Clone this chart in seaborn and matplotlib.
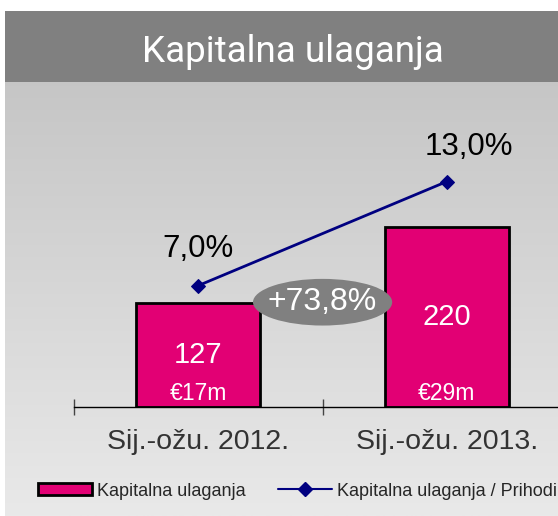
import numpy as np
import matplotlib.pyplot as plt
import seaborn as sns
from matplotlib.colors import LinearSegmentedColormap
from matplotlib.patches import Ellipse, Patch
from matplotlib.lines import Line2D

periods = ["Sij.-ožu. 2012.", "Sij.-ožu. 2013."]
capex = [127, 220]
capex_eur = ["€17m", "€29m"]
capex_ratio = [7.0, 13.0]
ratio_labels = ["7,0%", "13,0%"]
growth = "+73,8%"

sns.set_theme(style="white")
plt.rcParams["font.family"] = ["Liberation Sans", "DejaVu Sans"]

MAGENTA = "#E20074"
NAVY = "#000080"
W, H = 558, 516


def box(x0, y0, x1, y1):
    return [x0 / W, 1 - y1 / H, (x1 - x0) / W, (y1 - y0) / H]


fig = plt.figure(figsize=(5.58, 5.16), dpi=100)
fig.patch.set_facecolor("white")

# grey gradient panel
bg = fig.add_axes(box(5, 11, 558, 516))
bg.axis("off")
grad = np.linspace(0, 1, 256).reshape(-1, 1)
cmap = LinearSegmentedColormap.from_list("g", ["#c0c0c0", "#e9e9e9"])
bg.imshow(grad, cmap=cmap, aspect="auto", extent=[0, 1, 0, 1])

# title band
tb = fig.add_axes(box(5, 11, 558, 82))
tb.set_facecolor("#808080")
tb.set_xticks([])
tb.set_yticks([])
for s in tb.spines.values():
    s.set_visible(False)
tb.text((293 - 5) / 553, 0.28, "Kapitalna ulaganja", color="white", fontsize=26.5,
        ha="center", va="baseline", transform=tb.transAxes,
        family=["Roboto", "Liberation Sans"])

# main axes: bars + category axis
ax = fig.add_axes(box(74, 100, 558, 407))
ax.patch.set_alpha(0)
sns.barplot(x=periods, y=capex, width=0.5, color=MAGENTA, saturation=1,
            edgecolor="black", linewidth=2, ax=ax)
ax.set_xlim(-0.5, 1.447)
ax.set_ylim(0, 375)
ax.set_xlabel("")
ax.set_ylabel("")
ax.set_yticks([])
for k in ["top", "right", "left"]:
    ax.spines[k].set_visible(False)
ax.spines["bottom"].set_color("black")
ax.spines["bottom"].set_linewidth(1)
ax.tick_params(axis="x", which="major", bottom=False, length=0, pad=16,
               labelsize=20.5, labelcolor="#333333")
ax.set_xticks([-0.5, 0.5, 1.5], minor=True)
ax.tick_params(axis="x", which="minor", bottom=True, direction="inout",
               length=12, width=1, color="#444444")

for i, v in enumerate(capex):
    ax.text(i, v / 2, str(v), color="white", fontsize=21, ha="center", va="center")
    ax.text(i, 17, capex_eur[i], color="white", fontsize=16.5, ha="center", va="center")

ax.add_patch(Ellipse((0.5, 128), 0.56, 57, facecolor="#808080",
                     edgecolor="none", zorder=5))
ax.text(0.5, 128, growth, color="white", fontsize=23, ha="center",
        va="center", zorder=6)

# ratio line on secondary scale
ax2 = ax.twinx()
ax2.set_ylim(0, 17.7)
sns.lineplot(x=list(range(len(periods))), y=capex_ratio, color=NAVY,
             linewidth=2, marker="D", markersize=7, markeredgecolor=NAVY,
             ax=ax2)
ax2.set_xlim(-0.5, 1.447)
ax2.axis("off")
offsets = [(0, 26), (16, 25)]
for i, v in enumerate(capex_ratio):
    ax2.annotate(ratio_labels[i], (i, v), xytext=offsets[i],
                 textcoords="offset points", fontsize=22.5, color="black",
                 ha="center", va="center")

handles = [
    Patch(facecolor=MAGENTA, edgecolor="black", linewidth=2),
    Line2D([], [], color=NAVY, linewidth=1.5, marker="D", markersize=7),
]
fig.legend(handles, ["Kapitalna ulaganja", "Kapitalna ulaganja / Prihodi"],
           loc="center left", bbox_to_anchor=(31 / W, 1 - 491 / H), ncol=2,
           frameon=False, fontsize=13, handlelength=3.0, handleheight=0.66,
           handletextpad=0.28, columnspacing=1.75, borderaxespad=0)

fig.savefig("out.png", dpi=100)
